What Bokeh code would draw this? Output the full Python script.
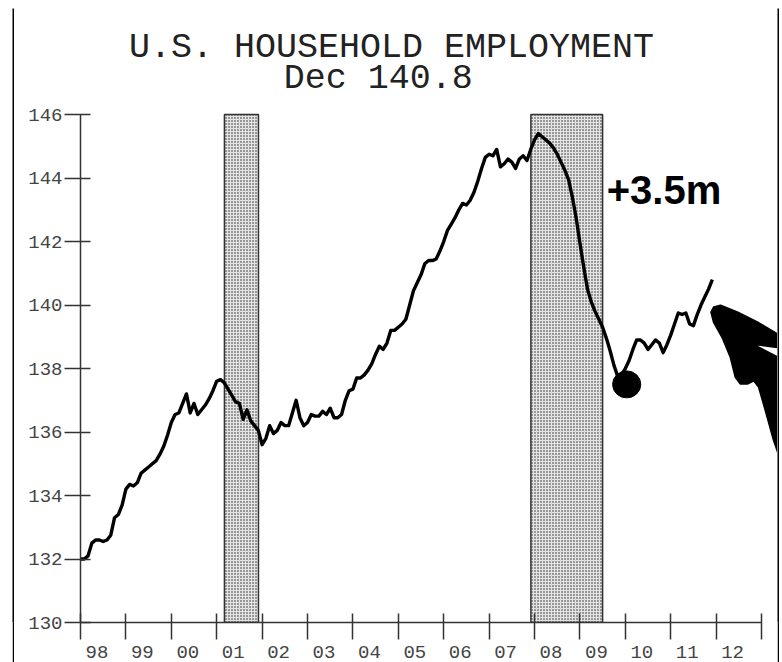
from bokeh.plotting import figure
from bokeh.models import Range1d, FixedTicker
from bokeh.layouts import column, row
from bokeh.core.properties import value
from bokeh.embed import file_html
from bokeh.resources import INLINE

# ---------------- data ----------------
years = list(range(1998, 2012))
emp_1998 = [132.0, 132.0, 132.1, 132.5, 132.6, 132.6, 132.55, 132.6, 132.75, 133.3, 133.4, 133.7]
emp_1999 = [134.2, 134.35, 134.3, 134.4, 134.7, 134.8, 134.9, 135.0, 135.1, 135.3, 135.55, 135.9]
emp_2000 = [136.3, 136.55, 136.6, 136.9, 137.2, 136.6, 136.9, 136.55, 136.7, 136.85, 137.05, 137.3]
emp_2001 = [137.6, 137.65, 137.55, 137.35, 137.15, 136.95, 136.9, 136.4, 136.7, 136.35, 136.2, 136.05]
emp_2002 = [135.6, 135.8, 136.2, 135.95, 136.05, 136.3, 136.2, 136.2, 136.6, 137.0, 136.45, 136.2]
emp_2003 = [136.3, 136.55, 136.5, 136.5, 136.65, 136.55, 136.75, 136.45, 136.45, 136.55, 137.0, 137.3]
emp_2004 = [137.35, 137.7, 137.7, 137.8, 137.95, 138.15, 138.45, 138.7, 138.6, 138.8, 139.2, 139.2]
emp_2005 = [139.3, 139.4, 139.55, 140.0, 140.45, 140.7, 140.95, 141.3, 141.4, 141.4, 141.45, 141.7]
emp_2006 = [142.0, 142.35, 142.55, 142.75, 143.0, 143.2, 143.15, 143.3, 143.55, 143.9, 144.3, 144.65]
emp_2007 = [144.75, 144.7, 144.9, 144.35, 144.45, 144.6, 144.5, 144.3, 144.6, 144.7, 144.55, 144.9]
emp_2008 = [145.2, 145.4, 145.3, 145.2, 145.1, 144.95, 144.75, 144.5, 144.25, 143.95, 143.4, 142.75]
emp_2009 = [141.95, 141.2, 140.5, 140.1, 139.8, 139.55, 139.3, 138.95, 138.55, 138.1, 137.75, 137.8]
emp_2010 = [138.0, 138.25, 138.6, 138.9, 138.9, 138.8, 138.6, 138.75, 138.9, 138.8, 138.5, 138.75]
emp_2011 = [139.05, 139.4, 139.75, 139.7, 139.75, 139.4, 139.35, 139.7, 140.0, 140.25, 140.5, 140.8]

recession_start = [2001.17, 2007.92]
recession_end = [2001.92, 2009.5]

y_ticks = [130, 132, 134, 136, 138, 140, 142, 144, 146]
year_ticks = list(range(1998, 2014))
year_labels = ["98", "99", "00", "01", "02", "03", "04", "05", "06", "07", "08", "09", "10", "11", "12"]

title_line1 = "U.S. HOUSEHOLD EMPLOYMENT"
title_line2 = "Dec 140.8"
annotation_text = "+3.5m"

# hand-drawn marks (annotation shapes)
blob_x, blob_y = 2010.03, 137.5
arrow_x = [2011.892, 2011.949, 2012.097, 2012.465, 2012.905, 2013.45, 2013.45, 2012.795,
           2013.45, 2013.45, 2013.271, 2013.088, 2012.941, 2012.830, 2012.685, 2012.537,
           2012.427, 2012.317, 2012.134, 2011.949]
arrow_y = [139.773, 139.931, 139.984, 139.773, 139.458, 139.0, 138.65, 138.778,
           138.28, 135.0, 135.732, 136.677, 137.411, 137.622, 137.518, 137.518,
           137.726, 138.356, 138.986, 139.458]

all_series = [emp_1998, emp_1999, emp_2000, emp_2001, emp_2002, emp_2003, emp_2004,
              emp_2005, emp_2006, emp_2007, emp_2008, emp_2009, emp_2010, emp_2011]
employment = [v for s in all_series for v in s]
month_x = [yr + m / 12 for yr in years for m in range(12)]

# ---------------- main figure ----------------
MONO = "Liberation Mono"
W, H = 763, 654
p = figure(width=W, height=H,
           x_range=Range1d(1998, 2013.352), y_range=Range1d(130, 149.339),
           output_backend="svg", toolbar_location=None,
           min_border_left=66, min_border_right=0, min_border_top=0, min_border_bottom=40)
p.outline_line_color = None
p.grid.visible = False
p.background_fill_color = "white"
p.border_fill_color = "white"

# recession bars
p.quad(left=recession_start, right=recession_end, bottom=130, top=146,
       fill_color="#e4e4e4", line_color="#333333", line_width=1.5,
       hatch_pattern="dot", hatch_color="#222222", hatch_scale=3, hatch_weight=1.2)

# employment line
p.line(month_x, employment, line_color="black", line_width=3.4, line_join="round")

# hand-drawn blob and arrow
p.ellipse(x=[blob_x], y=[blob_y], width=0.62, height=0.85, fill_color="black", line_color="black")
p.patch(arrow_x, arrow_y, fill_color="black", line_color="black", line_width=2, line_join="round")

# titles
p.text(x=[2004.85], y=[148.08], text=[title_line1], text_font=value(MONO), text_font_size="35px",
       text_color="#222222", text_align="center", text_baseline="alphabetic")
p.text(x=[2004.56], y=[147.13], text=[title_line2], text_font=value(MONO), text_font_size="35px",
       text_color="#222222", text_align="center", text_baseline="alphabetic")

# +3.5m
p.text(x=[2009.59], y=[143.61], text=[annotation_text], text_font=value("Liberation Sans"),
       text_font_style="bold", text_font_size="40px", text_color="black",
       text_align="left", text_baseline="alphabetic")

# y axis
ya = p.yaxis[0]
ya.bounds = (130, 146)
ya.ticker = FixedTicker(ticks=y_ticks, minor_ticks=[])
ya.major_label_text_font = MONO
ya.major_label_text_font_size = "19px"
ya.major_label_text_color = "#444444"
ya.major_tick_in = 10
ya.major_tick_out = 16
ya.major_label_standoff = 2
ya.axis_line_color = "#333333"
ya.axis_line_width = 1.5
ya.major_tick_line_color = "#333333"
ya.major_tick_line_width = 1.5
ya.minor_tick_line_color = None

# x axis: labels sit between year ticks
label_pos = [yr + 0.363 for yr in year_ticks[:-1]]
xa = p.xaxis[0]
xa.bounds = (1998, 2013)
xa.ticker = FixedTicker(ticks=label_pos, minor_ticks=year_ticks)
xa.major_label_overrides = {pos: lab for pos, lab in zip(label_pos, year_labels)}
xa.major_label_text_font = MONO
xa.major_label_text_font_size = "19px"
xa.major_label_text_color = "#444444"
xa.major_tick_in = 0
xa.major_tick_out = 0
xa.major_tick_line_color = None
xa.major_label_standoff = 6
xa.minor_tick_in = 9
xa.minor_tick_out = 17
xa.minor_tick_line_color = "#333333"
xa.minor_tick_line_width = 1.5
xa.axis_line_color = "#333333"
xa.axis_line_width = 1.5


# ---------------- black picture frame (thin bar figures) ----------------
def bar(width, height):
    b = figure(width=width, height=height, x_range=Range1d(0, 1), y_range=Range1d(0, 1),
               x_axis_location=None, y_axis_location=None, min_border=0,
               output_backend="svg", toolbar_location=None)
    b.outline_line_color = None
    b.grid.visible = False
    b.background_fill_color = "black"
    b.border_fill_color = "black"
    return b


top_bar = bar(W + 4, 2)
left_bar = bar(2, H)
right_bar = bar(2, H)

layout = column(top_bar, row(left_bar, p, right_bar, spacing=0), spacing=0, margin=(6, 0, 0, 12))

open("out.html", "w").write(file_html(layout, INLINE))
